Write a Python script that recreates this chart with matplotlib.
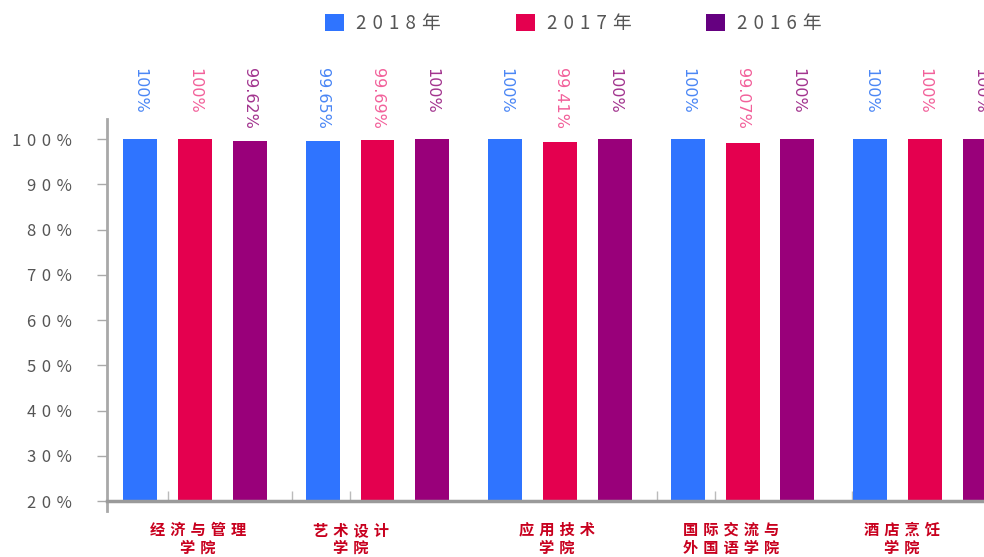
import numpy as np
import matplotlib
matplotlib.use("Agg")
import matplotlib.pyplot as plt
from matplotlib.patches import Patch
from matplotlib.transforms import blended_transform_factory

# ---------------- data ----------------
categories = ["经济与管理\n学院", "艺术设计\n学院", "应用技术\n学院", "国际交流与\n外国语学院", "酒店烹饪\n学院"]
series_names = ["2018年", "2017年", "2016年"]
v2018 = [100, 99.65, 100, 100, 100]
v2017 = [100, 99.69, 99.41, 99.07, 100]
v2016 = [99.62, 100, 100, 100, 100]
value_labels_2018 = ["100%", "99.65%", "100%", "100%", "100%"]
value_labels_2017 = ["100%", "99.69%", "99.41%", "99.07%", "100%"]
value_labels_2016 = ["99.62%", "100%", "100%", "100%", "100%"]
yticks = [20, 30, 40, 50, 60, 70, 80, 90, 100]

# ---------------- style ----------------
bar_colors = ["#2f74ff", "#e4004f", "#99007a"]
legend_colors = ["#2f74ff", "#e4004f", "#650080"]
label_colors = ["#4a86f5", "#f2609a", "#a2348e"]
cat_color = "#c8001e"
SP = "\u2004"  # three-per-em space for letter spacing
FAM = ["Noto Sans CJK SC", "DejaVu Sans"]


def spaced(s):
    return "\n".join(SP.join(list(line)) for line in s.split("\n"))


fig = plt.figure(figsize=(9.84, 5.57), dpi=100)
ax = fig.add_axes([107 / 984, 56 / 557, 1 - 107 / 984, (501 - 119) / 557])

x = np.arange(len(categories))
width = 0.186
offsets = [-0.30, 0.0, 0.30]
label_shift = np.array([0.016, -0.145, -0.016, -0.063, -0.126])
all_vals = [v2018, v2017, v2016]
all_labels = [value_labels_2018, value_labels_2017, value_labels_2016]

trans = blended_transform_factory(ax.transData, fig.transFigure)
for i, (vals, labs) in enumerate(zip(all_vals, all_labels)):
    ax.bar(x + offsets[i], vals, width=width, color=bar_colors[i], zorder=3)
    for xi, lab in zip(x + offsets[i], labs):
        ax.text(xi, 1 - 68 / 557, lab, transform=trans, rotation=-90,
                ha="center", va="top", fontsize=11.5, color=label_colors[i],
                family="DejaVu Sans", clip_on=False)

ax.set_xlim(-0.482, 4.323)
ax.set_ylim(20, 104.42)

# spines
for s in ["top", "right"]:
    ax.spines[s].set_visible(False)
ax.spines["left"].set_color("#a8a8a8")
ax.spines["left"].set_linewidth(2)
ax.spines["left"].set_bounds(17.8, 104.42)
ax.spines["bottom"].set_color("#9a9a9a")
ax.spines["bottom"].set_linewidth(2.5)
ax.spines["bottom"].set_zorder(4)

# y ticks
ax.set_yticks(yticks)
ax.set_yticklabels([spaced(f"{t}%") for t in yticks], family=FAM, fontsize=12, color="#555555")
ax.tick_params(axis="y", length=7.2, width=1, color="#aaaaaa", pad=18)

# x ticks
ax.set_xticks(x + label_shift)
ax.set_xticklabels([spaced(c) for c in categories], family=FAM, fontsize=11,
                   fontweight="bold", color=cat_color, linespacing=1.15)
ax.tick_params(axis="x", which="major", length=0, pad=15)
ax.set_xticks([-0.15, 0.53, 0.85, 2.53, 2.85, 3.6], minor=True)
ax.tick_params(axis="x", which="minor", direction="in", length=7.2, width=1, color="#bbbbbb")

# legend
handles = [Patch(facecolor=c, edgecolor="none") for c in legend_colors]
leg = fig.legend(handles, [spaced(n) for n in series_names], loc="center",
                 bbox_to_anchor=(0.583, 1 - 23.5 / 557), ncol=3, frameon=False,
                 handlelength=1.0, handleheight=1.0, handletextpad=0.64,
                 columnspacing=4.0, borderpad=0,
                 prop={"family": FAM, "size": 13.5})
for t in leg.get_texts():
    t.set_color("#555555")

fig.savefig("out.png", dpi=100)
